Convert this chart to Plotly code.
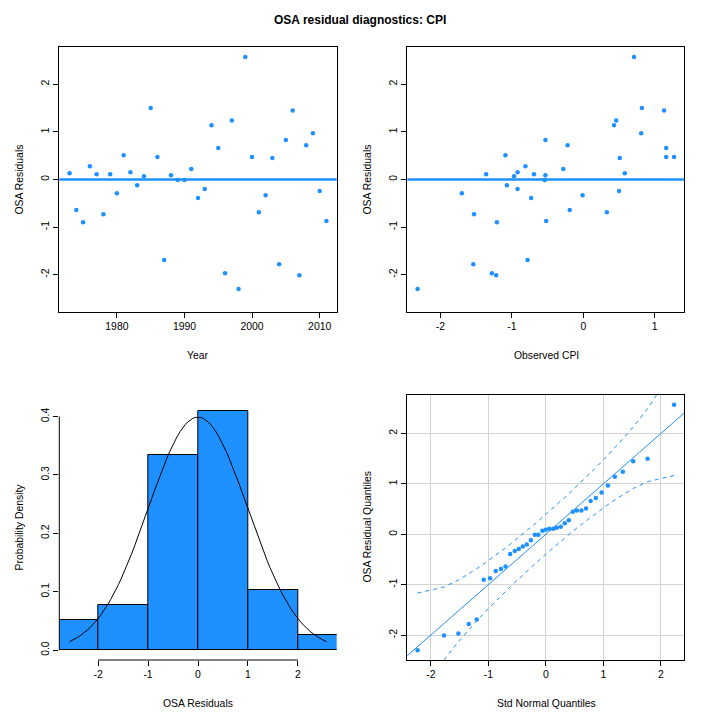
import numpy as np
import plotly.graph_objects as go

# OSA residuals by year
years = list(range(1973, 2012))
osa_resid = [0.13, -0.64, -0.90, 0.28, 0.11, -0.73, 0.11, -0.29, 0.51, 0.15,
             -0.12, 0.07, 1.50, 0.47, -1.69, 0.09, -0.01, -0.01, 0.22, -0.39,
             -0.20, 1.14, 0.66, -1.97, 1.24, -2.30, 2.57, 0.47, -0.69, -0.33,
             0.45, -1.78, 0.83, 1.45, -2.01, 0.72, 0.97, -0.24, -0.87]
observed_cpi = [0.58, -0.19, -1.21, -0.81, -1.36, -1.53, -0.69, -1.70, -1.09, -0.92,
                -1.07, -0.97, 0.82, 1.16, -0.78, -0.53, -0.54, -0.54, -0.28, -0.73,
                -0.92, 0.43, 1.16, -1.28, 0.46, -2.32, 0.71, 1.27, 0.33, -0.01,
                0.51, -1.54, -0.53, 1.13, -1.22, -0.22, 0.81, 0.50, -0.52]
# standard normal quantiles used on the qq panel
std_norm_q = [-2.23, -1.77, -1.52, -1.34, -1.20, -1.08, -0.97, -0.87, -0.78, -0.70,
              -0.62, -0.54, -0.47, -0.40, -0.33, -0.26, -0.19, -0.13, -0.06, 0.00,
              0.06, 0.13, 0.19, 0.26, 0.33, 0.40, 0.47, 0.54, 0.62, 0.70,
              0.78, 0.87, 0.97, 1.08, 1.20, 1.34, 1.52, 1.77, 2.23]
hist_breaks = [-3, 3, 1]

# tick labels (R style, plain hyphen minus)
unit_ticks = [-2, -1, 0, 1, 2]
unit_labels = ["-2", "-1", "0", "1", "2"]
year_ticks = [1980, 1990, 2000, 2010]
dens_ticks = [0, 0.1, 0.2, 0.3, 0.4]
dens_labels = ["0.0", "0.1", "0.2", "0.3", "0.4"]

blue = "#1E90FF"
font = "Liberation Sans, Arial, sans-serif"
W = H = 720


def pad(lo, hi):
    d = (hi - lo) * 0.04
    return [lo - d, hi + d]


def px(x, y):
    return x / W, 1 - y / H


n = len(osa_resid)
rmax = max(abs(v) for v in osa_resid)
sorted_resid = sorted(osa_resid)

# theoretical reference curves
zq = np.array(std_norm_q)
p = (np.arange(1, n + 1) - 0.5) / n
dens = np.exp(-zq ** 2 / 2) / np.sqrt(2 * np.pi)
half_w = 1.96 * np.sqrt(p * (1 - p) / n) / dens
xc = np.linspace(-rmax, rmax, 101)
yc = np.exp(-xc ** 2 / 2) / np.sqrt(2 * np.pi)

fig = go.Figure()

# panel 1: residuals vs year
fig.add_trace(go.Scatter(x=years, y=osa_resid, mode="markers",
                         marker=dict(color=blue, size=4.5), xaxis="x", yaxis="y"))
fig.add_shape(type="line", xref="x domain", yref="y", x0=0, x1=1, y0=0, y1=0,
              line=dict(color=blue, width=2.5))

# panel 2: residuals vs observed
fig.add_trace(go.Scatter(x=observed_cpi, y=osa_resid, mode="markers",
                         marker=dict(color=blue, size=4.5), xaxis="x2", yaxis="y2"))
fig.add_shape(type="line", xref="x2 domain", yref="y2", x0=0, x1=1, y0=0, y1=0,
              line=dict(color=blue, width=2.5))

# panel 3: histogram + normal density
fig.add_trace(go.Histogram(x=osa_resid, histnorm="probability density",
                           xbins=dict(start=hist_breaks[0], end=hist_breaks[1], size=hist_breaks[2]),
                           marker=dict(color=blue, line=dict(color="black", width=1)),
                           xaxis="x3", yaxis="y3"))
fig.add_trace(go.Scatter(x=xc, y=yc, mode="lines", line=dict(color="black", width=1),
                         xaxis="x3", yaxis="y3"))
fig.add_shape(type="line", xref="x3", yref="y3 domain", x0=-2, x1=2, y0=0, y1=0,
              line=dict(color="black", width=1))
fig.add_shape(type="line", xref="x3 domain", yref="y3", x0=0, x1=0, y0=0, y1=0.4,
              line=dict(color="black", width=1))

# panel 4: qq plot with envelope
fig.add_trace(go.Scatter(x=[-3, 3], y=[-3, 3], mode="lines",
                         line=dict(color=blue, width=1), xaxis="x4", yaxis="y4"))
fig.add_trace(go.Scatter(x=zq, y=zq + half_w, mode="lines",
                         line=dict(color=blue, width=1, dash="4px,4px"), xaxis="x4", yaxis="y4"))
fig.add_trace(go.Scatter(x=zq, y=zq - half_w, mode="lines",
                         line=dict(color=blue, width=1, dash="4px,4px"), xaxis="x4", yaxis="y4"))
fig.add_trace(go.Scatter(x=std_norm_q, y=sorted_resid, mode="markers",
                         marker=dict(color=blue, size=4.5), xaxis="x4", yaxis="y4"))

xl = [59.3 / W, 336.7 / W]
xr = [407.3 / W, 684.3 / W]
yt = [1 - 311.7 / H, 1 - 47.3 / H]
yb = [1 - 660 / H, 1 - 395 / H]

tick = dict(ticks="outside", ticklen=5, tickcolor="black", tickfont=dict(size=10.4, color="black"),
            zeroline=False, showgrid=False)
boxed = dict(showline=True, mirror=True, linecolor="black", linewidth=1)
unit = dict(tickvals=unit_ticks, ticktext=unit_labels)

fig.update_layout(
    width=W, height=H, margin=dict(l=0, r=0, t=0, b=0),
    paper_bgcolor="white", plot_bgcolor="white", showlegend=False, bargap=0,
    font=dict(family=font, color="black"),
    xaxis=dict(domain=xl, anchor="y", range=pad(1973, 2011),
               tickvals=year_ticks, ticktext=[str(y) for y in year_ticks], **tick, **boxed),
    yaxis=dict(domain=yt, anchor="x", range=pad(-rmax, rmax), **unit,
               tickangle=-90, **tick, **boxed),
    xaxis2=dict(domain=xr, anchor="y2", range=pad(min(observed_cpi), max(observed_cpi)),
                tickvals=unit_ticks[:4], ticktext=unit_labels[:4], **tick, **boxed),
    yaxis2=dict(domain=yt, anchor="x2", range=pad(-rmax, rmax), **unit,
                tickangle=-90, **tick, **boxed),
    xaxis3=dict(domain=xl, anchor="y3", range=pad(-rmax, rmax), **unit,
                showline=False, **tick),
    yaxis3=dict(domain=yb, anchor="x3", range=pad(0, 0.42), tickvals=dens_ticks,
                ticktext=dens_labels, tickangle=-90, showline=False, **tick),
    xaxis4=dict(domain=xr, anchor="y4", range=pad(min(std_norm_q), max(std_norm_q)), **unit,
                **{**tick, "showgrid": True}, gridcolor="#D3D3D3", **boxed),
    yaxis4=dict(domain=yb, anchor="x4", range=pad(min(sorted_resid), max(sorted_resid)), **unit,
                tickangle=-90, **{**tick, "showgrid": True}, gridcolor="#D3D3D3", **boxed),
)

labels = [
    ("Year", 198, 355, 0), ("Observed CPI", 546, 355, 0),
    ("OSA Residuals", 198, 703, 0), ("Std Normal Quantiles", 546, 703, 0),
    ("OSA Residuals", 19, 179.5, -90), ("OSA Residuals", 367, 179.5, -90),
    ("Probability Density", 19, 527.5, -90), ("OSA Residual Quantiles", 367, 527.5, -90),
]
for text, x, y, ang in labels:
    ax, ay = px(x, y)
    fig.add_annotation(text=text, x=ax, y=ay, xref="paper", yref="paper", showarrow=False,
                       textangle=ang, font=dict(size=10.4, color="black"),
                       xanchor="center", yanchor="middle")

tx, ty = px(360, 20)
fig.add_annotation(text="<b>OSA residual diagnostics: CPI</b>", x=tx, y=ty, xref="paper",
                   yref="paper", showarrow=False, font=dict(size=12, color="black"),
                   xanchor="center", yanchor="middle")

# drop the default page margin so the 720px figure sits at the window origin
fig.write_html("out.html", config={"displayModeBar": False},
               post_script="document.body.style.margin='0';")
